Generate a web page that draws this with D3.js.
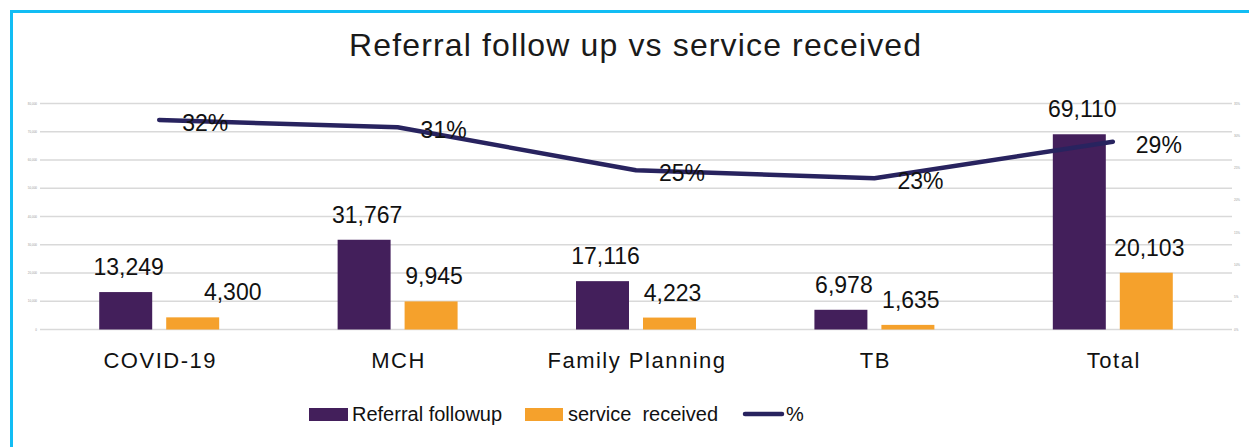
<!DOCTYPE html>
<html>
<head>
<meta charset="utf-8">
<script src="https://cdn.jsdelivr.net/npm/d3@7"></script>
<style>
  body { margin: 0; background: #fff; }
  text { font-family: "Liberation Sans", Arial, sans-serif; fill: #111; }
</style>
</head>
<body>
<div id="chart"></div>
<script>
// data
var categories = ["COVID-19", "MCH", "Family Planning", "TB", "Total"];
var referralFollowup = [13249, 31767, 17116, 6978, 69110];
var serviceReceived = [4300, 9945, 4223, 1635, 20103];
var pctReceived = [0.3245, 0.3131, 0.2467, 0.2343, 0.2909];
var leftTicks = [0, 10000, 20000, 30000, 40000, 50000, 60000, 70000, 80000];
var rightTicks = [0, 0.05, 0.10, 0.15, 0.20, 0.25, 0.30, 0.35];

var width = 1249, height = 447;
var colPurple = "#431f5b", colOrange = "#f5a12c", colLine = "#28235f", colGrid = "#d9d9d9";

var svg = d3.select("#chart").append("svg")
    .attr("width", width)
    .attr("height", height);

// blue frame (only top and left edges show)
svg.append("path")
    .attr("d", "M11.5," + height + "V11.5H" + width)
    .attr("fill", "none")
    .attr("stroke", "#12bdf4")
    .attr("stroke-width", 3);

svg.append("text")
    .attr("x", 635)
    .attr("y", 56)
    .attr("text-anchor", "middle")
    .attr("textLength", 572)
    .attr("lengthAdjust", "spacing")
    .style("font-size", "32px")
    .style("fill", "#1a1a1a")
    .text("Referral follow up vs service received");

var plot = {left: 40, right: 1232, top: 103.5, bottom: 329.5};

var x = d3.scaleBand()
    .domain(categories)
    .range([plot.left, plot.right]);

var xs = d3.scaleBand()
    .domain(["ref", "svc"])
    .range([0, x.bandwidth()])
    .paddingInner(0.209)
    .paddingOuter(0.884);

var y = d3.scaleLinear().domain([0, 80000]).range([plot.bottom, plot.top]);
var y2 = d3.scaleLinear().domain([0, 0.35]).range([plot.bottom, plot.top]);

// gridlines
svg.append("g")
    .selectAll("line")
    .data(leftTicks)
    .enter()
    .append("line")
    .attr("x1", plot.left)
    .attr("x2", plot.right)
    .attr("y1", function(d) { return y(d); })
    .attr("y2", function(d) { return y(d); })
    .attr("stroke", colGrid)
    .attr("stroke-width", 1.5);

// tiny axis labels (they are almost unreadable in the original)
svg.append("g")
    .selectAll("text")
    .data(leftTicks)
    .enter()
    .append("text")
    .attr("x", 37)
    .attr("y", function(d) { return y(d) + 1; })
    .attr("text-anchor", "end")
    .style("font-size", "3px")
    .style("fill", "#999")
    .text(d3.format(","));

svg.append("g")
    .selectAll("text")
    .data(rightTicks)
    .enter()
    .append("text")
    .attr("x", 1234)
    .attr("y", function(d) { return y2(d) + 1; })
    .style("font-size", "3px")
    .style("fill", "#999")
    .text(d3.format(".0%"));

// bars
var groups = svg.append("g")
    .selectAll("g")
    .data(categories)
    .enter()
    .append("g")
    .attr("transform", function(d) { return "translate(" + x(d) + ",0)"; });

groups.append("rect")
    .attr("x", xs("ref"))
    .attr("width", xs.bandwidth())
    .attr("y", function(d, i) { return y(referralFollowup[i]); })
    .attr("height", function(d, i) { return plot.bottom - y(referralFollowup[i]); })
    .attr("fill", colPurple);

groups.append("rect")
    .attr("x", xs("svc"))
    .attr("width", xs.bandwidth())
    .attr("y", function(d, i) { return y(serviceReceived[i]); })
    .attr("height", function(d, i) { return plot.bottom - y(serviceReceived[i]); })
    .attr("fill", colOrange);

var fmt = d3.format(",");
var svcNudge = {"COVID-19": 37}; // that label was dragged right in the original

groups.append("text")
    .attr("x", xs("ref") + xs.bandwidth() / 2 + 3)
    .attr("y", function(d, i) { return y(referralFollowup[i]) - 17; })
    .attr("text-anchor", "middle")
    .style("font-size", "23px")
    .text(function(d, i) { return fmt(referralFollowup[i]); });

groups.append("text")
    .attr("x", function(d) { return xs("svc") + xs.bandwidth() / 2 + 3 + (svcNudge[d] || 0); })
    .attr("y", function(d, i) { return y(serviceReceived[i]) - 17; })
    .attr("text-anchor", "middle")
    .style("font-size", "23px")
    .text(function(d, i) { return fmt(serviceReceived[i]); });

// category labels
svg.append("g")
    .selectAll("text")
    .data(categories)
    .enter()
    .append("text")
    .attr("x", function(d) { return x(d) + x.bandwidth() / 2 + 1; })
    .attr("y", 368)
    .attr("text-anchor", "middle")
    .style("font-size", "22px")
    .style("letter-spacing", "1.5px")
    .text(function(d) { return d; });

// percentage line
var line = d3.line()
    .x(function(d, i) { return x(categories[i]) + x.bandwidth() / 2; })
    .y(function(d) { return y2(d); });

svg.append("path")
    .datum(pctReceived)
    .attr("d", line)
    .attr("fill", "none")
    .attr("stroke", colLine)
    .attr("stroke-width", 4.5)
    .attr("stroke-linecap", "round")
    .attr("stroke-linejoin", "round");

svg.append("g")
    .selectAll("text")
    .data(pctReceived)
    .enter()
    .append("text")
    .attr("x", function(d, i) { return x(categories[i]) + x.bandwidth() / 2 + 23; })
    .attr("y", function(d) { return y2(d) + 11; })
    .style("font-size", "23px")
    .text(d3.format(".0%"));

// legend
var legend = svg.append("g");
legend.append("rect").attr("x", 309).attr("y", 408).attr("width", 39).attr("height", 13).attr("fill", colPurple);
legend.append("text").attr("x", 352).attr("y", 421).style("font-size", "20px").text("Referral followup");
legend.append("rect").attr("x", 525).attr("y", 408).attr("width", 38).attr("height", 13).attr("fill", colOrange);
legend.append("text").attr("x", 568).attr("y", 421).style("font-size", "20px").style("white-space", "pre")
    .text("service  received");
legend.append("line").attr("x1", 745).attr("x2", 782).attr("y1", 414).attr("y2", 414)
    .attr("stroke", colLine).attr("stroke-width", 4.5).attr("stroke-linecap", "round");
legend.append("text").attr("x", 786).attr("y", 421).style("font-size", "20px").text("%");
</script>
</body>
</html>
